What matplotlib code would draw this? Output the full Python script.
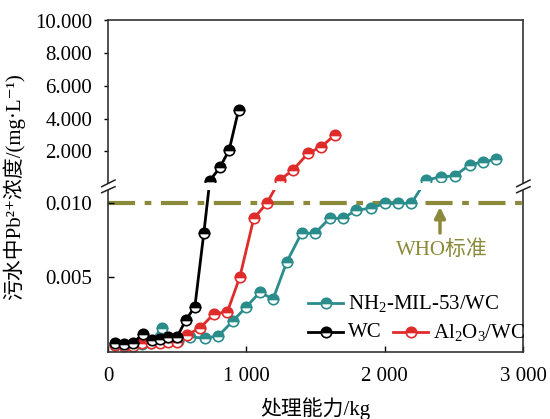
import numpy as np
from matplotlib import pyplot as plt
from matplotlib import ticker
from matplotlib.lines import Line2D
from matplotlib.patches import Polygon

plt.rcParams['font.family'] = ['Liberation Serif', 'Noto Sans CJK SC', 'DejaVu Serif']
plt.rcParams['mathtext.default'] = 'regular'
plt.rcParams['font.size'] = 15

############# data (treatment capacity in kg, Pb2+ in mg/L) #############

wc_x = [50, 116, 183, 250, 315, 375, 436, 500, 563, 628, 693, 736, 809, 876, 944]
wc_y = [0.00058, 0.00054, 0.00062, 0.00119, 0.0008, 0.00085, 0.00103, 0.00103,
        0.00215, 0.00304, 0.0080, 0.2, 1.02, 2.08, 4.53]

al_x = [51, 116, 181, 245, 310, 375, 433, 498, 568, 664, 765, 863, 953, 1054,
        1148, 1242, 1338, 1446, 1543, 1639]
al_y = [0.0005, 0.0004, 0.0004, 0.0006, 0.0006, 0.0006, 0.0007, 0.0007,
        0.00114, 0.0016, 0.00255, 0.0027, 0.00503, 0.00897, 0.00998,
        0.25, 0.86, 1.88, 2.28, 3.0]

nh_x = [51, 116, 181, 245, 310, 388, 448, 505, 592, 700, 796, 903, 1001, 1097,
        1194, 1292, 1399, 1495, 1603, 1699, 1796, 1904, 2000, 2096, 2193,
        2301, 2404, 2505, 2614, 2710, 2806]
nh_y = [0.00047, 0.00047, 0.00047, 0.00054, 0.0006, 0.00164, 0.0008, 0.00074,
        0.001, 0.00094, 0.00107, 0.00208, 0.00304, 0.0040, 0.00356, 0.00604,
        0.00797, 0.00797, 0.00897, 0.00897, 0.00953, 0.00964, 0.00998, 0.00998,
        0.00998, 0.25, 0.43, 0.5, 1.16, 1.36, 1.5]

who_limit = 0.010
who_x = 2400

x_ticks = [0, 1000, 2000, 3000]
x_labels = ['0', '1 000', '2 000', '3 000']
low_ticks = [0.005, 0.010]
high_ticks = [2, 4, 6, 8, 10]

teal = '#2b8c8c'
red = '#e02b2b'
black = '#000000'
olive = '#8a8a3a'

############# broken y scale #############

v_knots = [-1, 0, 0.01107, 0.05, 100]
t_knots = [-14900, 0, 165.0, 168.82, 1803.0]


def forward(v):
    return np.interp(v, v_knots, t_knots)


def inverse(t):
    return np.interp(t, t_knots, v_knots)


W, H = 550, 419


def fx(px):
    return px / W


def fy(py):
    return 1 - py / H


fig = plt.figure(figsize=(5.5, 4.19), dpi=100)
ax = fig.add_axes([fx(108), fy(352), fx(523) - fx(108), fy(20.5) - fy(352)])
ax.set_yscale('function', functions=(forward, inverse))

mk = dict(marker='o', markersize=7.5, fillstyle='top', markerfacecoloralt='white',
          markeredgewidth=1.2, linewidth=2)
ax.plot(nh_x, nh_y, color=teal, markerfacecolor=teal, markeredgecolor=teal, **mk)
ax.plot(al_x, al_y, color=red, markerfacecolor=red, markeredgecolor=red, **mk)
ax.plot(wc_x, wc_y, color=black, markerfacecolor=black, markeredgecolor=black, **mk)

ax.axhline(who_limit, color=olive, linewidth=3, linestyle=(0, (6.5, 2.3, 1.6, 2.3)),
           zorder=1.5)

# white gap at the axis break
ax.axhspan(inverse(162.5), inverse(169.5), color='white', zorder=2.2, linewidth=0)

ax.set_xlim(0, 3000)
ax.set_ylim(0, 10)

ax.set_xticks(x_ticks, x_labels)
ax.xaxis.set_minor_locator(ticker.NullLocator())
ax.tick_params(axis='x', direction='in', length=4, width=1, pad=11, labelsize=15)

ax.yaxis.set_major_locator(ticker.FixedLocator(low_ticks))
ax.yaxis.set_major_formatter(ticker.FixedFormatter(['%.3f' % v for v in low_ticks]))
ax.yaxis.set_minor_locator(ticker.FixedLocator(high_ticks))
ax.yaxis.set_minor_formatter(ticker.FixedFormatter(['%.3f' % v for v in high_ticks]))
ax.tick_params(axis='y', which='major', direction='in', length=4, width=1, pad=11.5,
               labelsize=15)
ax.tick_params(axis='y', which='minor', direction='out', length=3, width=1, pad=8.5,
               labelsize=15)

for s in ax.spines.values():
    s.set_color('#333333')
    s.set_linewidth(1.2)

ax.set_xlabel('处理能力/kg', fontsize=15, labelpad=8)
ax.set_ylabel('污水中Pb²⁺浓度/(mg·L⁻¹)', fontsize=15, labelpad=7)

# WHO marker
ax.annotate('', xy=(who_x, inverse(145.0)), xytext=(who_x, inverse(119.0)),
            arrowprops=dict(arrowstyle='-|>', color=olive, lw=2.5, mutation_scale=16,
                            shrinkA=0, shrinkB=0))
ax.text(2412, inverse(102.0), 'WHO标准', color=olive, fontsize=15,
        ha='center', va='center')

# break marks on both spines
for x0 in (101.7, 516.7):
    pts = [(fx(x0), fy(186.7)), (fx(x0 + 13.3), fy(180)),
           (fx(x0 + 13.3), fy(186.7)), (fx(x0), fy(192.7))]
    fig.add_artist(Polygon(pts, closed=True, facecolor='white', edgecolor='none',
                           transform=fig.transFigure, zorder=5))
    fig.add_artist(Line2D([fx(x0), fx(x0 + 13.3)], [fy(186.7), fy(180)],
                          color='#222222', lw=1.1, transform=fig.transFigure, zorder=6))
    fig.add_artist(Line2D([fx(x0), fx(x0 + 13.3)], [fy(192.7), fy(186.7)],
                          color='#222222', lw=1.1, transform=fig.transFigure, zorder=6))

# legend drawn by hand: one entry on the first row, two on the second
legend_rows = [
    (teal, 'NH$_2$-MIL-53/WC', 308, 303),
    (black, 'WC', 308, 332),
    (red, 'Al$_2$O$_3$/WC', 393, 332),
]
for c, label, x0, y0 in legend_rows:
    fig.add_artist(Line2D([fx(x0), fx(x0 + 17.5), fx(x0 + 35)], [fy(y0)] * 3, color=c,
                          markerfacecolor=c, markeredgecolor=c, markevery=[1],
                          transform=fig.transFigure, **mk))
    fig.text(fx(x0 + 40), fy(y0), label, fontsize=15, va='center', ha='left')

fig.savefig('out.png', dpi=100)
